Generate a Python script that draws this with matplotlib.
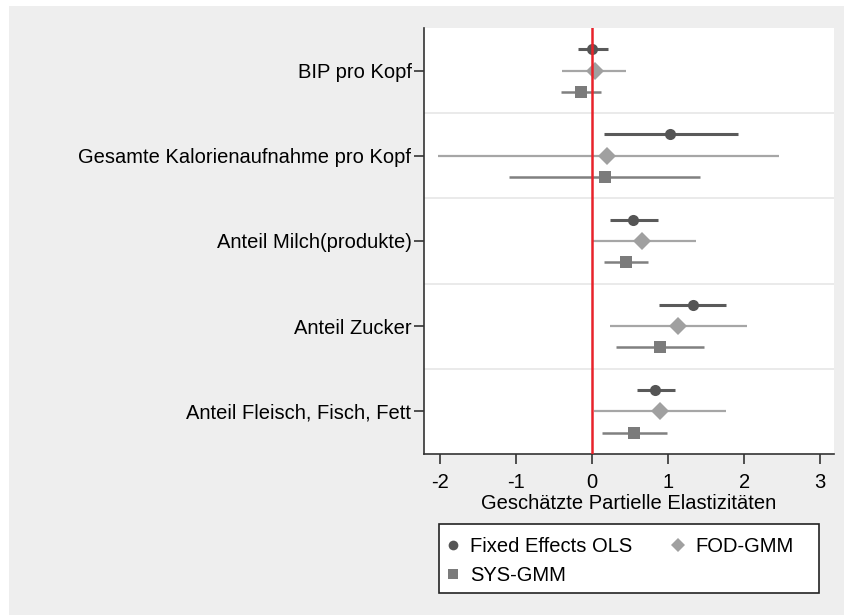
import matplotlib
matplotlib.use('Agg')
import matplotlib.pyplot as plt
from matplotlib.lines import Line2D
from matplotlib.patches import Rectangle

plt.rcParams['font.family'] = ['Liberation Sans', 'DejaVu Sans']

# Daten
categories = ['BIP pro Kopf', 'Gesamte Kalorienaufnahme pro Kopf',
              'Anteil Milch(produkte)', 'Anteil Zucker',
              'Anteil Fleisch, Fisch, Fett']

fe_est = [0.00, 1.02, 0.54, 1.32, 0.83]
fe_lo = [-0.19, 0.15, 0.24, 0.88, 0.59]
fe_hi = [0.21, 1.92, 0.86, 1.76, 1.09]

fod_est = [0.04, 0.20, 0.66, 1.13, 0.89]
fod_lo = [-0.39, -2.03, 0.00, 0.24, 0.02]
fod_hi = [0.45, 2.46, 1.36, 2.04, 1.76]

sys_est = [-0.15, 0.17, 0.45, 0.89, 0.55]
sys_lo = [-0.41, -1.09, 0.16, 0.32, 0.13]
sys_hi = [0.12, 1.42, 0.74, 1.47, 0.99]

xticks = [-2, -1, 0, 1, 2, 3]

W, H = 845, 615
fig = plt.figure(figsize=(W / 100, H / 100), dpi=100)
fig.patch.set_facecolor('white')
fig.patches.append(Rectangle((9 / W, 0), 1 - 9 / W, 1 - 6 / H,
                             transform=fig.transFigure, facecolor='#eeeeee',
                             edgecolor='none', zorder=-10))

ax = fig.add_axes([424 / W, 1 - 454 / H, (834 - 424) / W, (454 - 28) / H])
ax.set_facecolor('white')

n = len(categories)
# est, lo, hi, offset, marker, marker colour, line colour, line width, marker size
series = [
    (fe_est, fe_lo, fe_hi, -0.25, 'o', '#555555', '#5a5a5a', 2.2, 8),
    (fod_est, fod_lo, fod_hi, 0.0, 'D', '#a0a0a0', '#a6a6a6', 1.6, 9.5),
    (sys_est, sys_lo, sys_hi, 0.25, 's', '#7b7b7b', '#808080', 1.8, 8.5),
]

for i in range(n - 1):
    ax.axhline(i + 0.5, color='#e6e6e6', lw=1.2, zorder=0)

for est, lo, hi, off, mk, mc, lc, lw, ms in series:
    for i in range(n):
        ax.plot([lo[i], hi[i]], [i + off, i + off], color=lc, lw=lw, zorder=2,
                solid_capstyle='butt')
    ax.plot(est, [i + off for i in range(n)], linestyle='none', marker=mk,
            color=mc, markersize=ms, zorder=3, markeredgewidth=0)

ax.axvline(0, color='#e8222a', lw=1.8, zorder=4)

ax.set_xlim(-2.21, 3.18)
ax.set_ylim(n - 0.5, -0.5)
ax.set_yticks(range(n))
ax.set_yticklabels(categories, fontsize=14.5)
ax.set_xticks(xticks)
ax.set_xticklabels([str(t) for t in xticks], fontsize=14.5)
ax.set_xlabel('Geschätzte Partielle Elastizitäten', fontsize=14.5, labelpad=1)

for s in ['top', 'right']:
    ax.spines[s].set_visible(False)
for s in ['left', 'bottom']:
    ax.spines[s].set_color('#333333')
    ax.spines[s].set_linewidth(1.2)
ax.tick_params(axis='both', direction='out', length=7, width=1.2,
               color='#333333')
ax.tick_params(axis='x', pad=7)
ax.tick_params(axis='y', pad=2)

# Legendenrahmen
fig.patches.append(Rectangle((439 / W, 1 - 593 / H), (819 - 439) / W, (593 - 524) / H,
                             transform=fig.transFigure, facecolor='white',
                             edgecolor='#222222', linewidth=1.2, zorder=5))

handles = [
    Line2D([], [], linestyle='none', marker='o', color='#555555', markersize=7,
           markeredgewidth=0, label='Fixed Effects OLS'),
    Line2D([], [], linestyle='none', marker='s', color='#7b7b7b', markersize=6.5,
           markeredgewidth=0, label='SYS-GMM'),
    Line2D([], [], linestyle='none', marker='D', color='#a0a0a0', markersize=7,
           markeredgewidth=0, label='FOD-GMM'),
]
leg = fig.legend(handles=handles, ncol=2, loc='upper left',
                 bbox_to_anchor=(439 / W, 1 - 531 / H), borderaxespad=0,
                 frameon=False, fontsize=14.5,
                 handlelength=0.8, handletextpad=0.45, labelspacing=0.5,
                 borderpad=0.3, columnspacing=1.85)
leg.set_zorder(6)

fig.savefig('out.png', dpi=100)
